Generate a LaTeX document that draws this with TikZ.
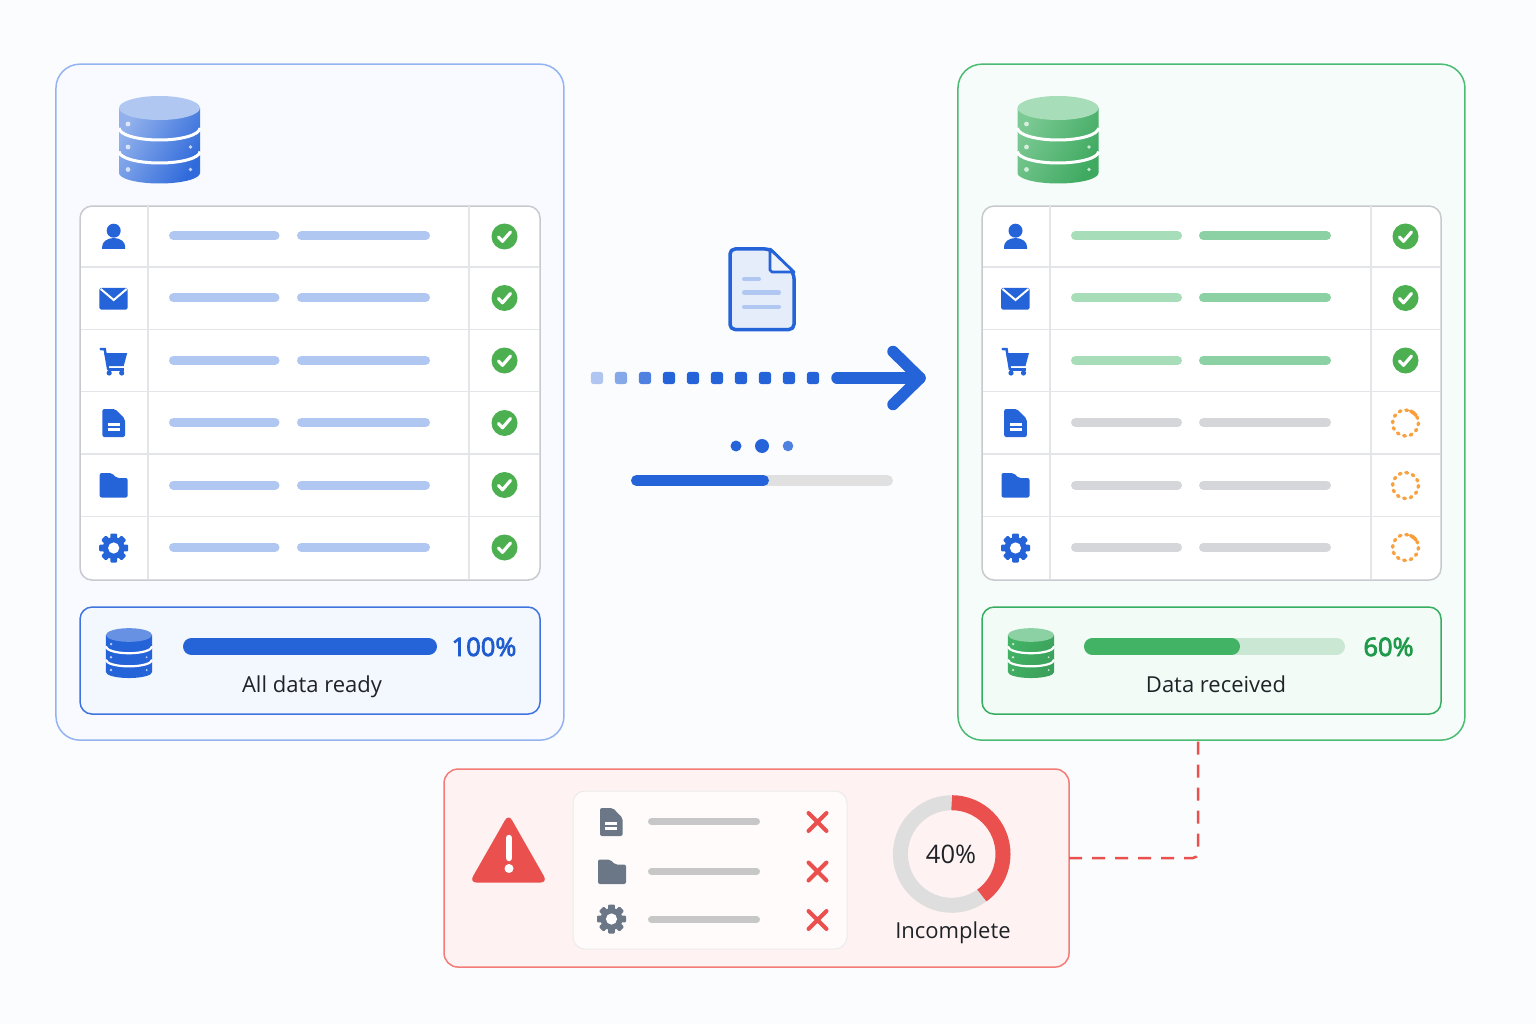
\documentclass[tikz,border=0pt]{standalone}
\usepackage{fontspec}
\setmainfont{Open Sans}
\newfontfamily\pctfont[FakeBold=3]{Open Sans}
\definecolor{bgc}{HTML}{FBFCFE}
\definecolor{blu}{HTML}{2563D9}
\definecolor{bluB}{HTML}{93B4F0}
\definecolor{bluF}{HTML}{F8FAFF}
\definecolor{bluL}{HTML}{B0C7F2}
\definecolor{bluS}{HTML}{F3F7FE}
\definecolor{bluSB}{HTML}{3F74DE}
\definecolor{bluT}{HTML}{1F5CD0}
\definecolor{grn}{HTML}{42B265}
\definecolor{grnB}{HTML}{4CBB73}
\definecolor{grnF}{HTML}{F6FCF9}
\definecolor{grnL}{HTML}{A8DDB9}
\definecolor{grnM}{HTML}{8CD1A3}
\definecolor{grnS}{HTML}{F3FBF6}
\definecolor{grnSB}{HTML}{36AE62}
\definecolor{grnT}{HTML}{1F9A4A}
\definecolor{grnTr}{HTML}{C9E7D3}
\definecolor{chk}{HTML}{4CAF50}
\definecolor{orng}{HTML}{F9A03F}
\definecolor{grayB}{HTML}{D5D6D9}
\definecolor{tblB}{HTML}{C8CACE}
\definecolor{tblL}{HTML}{E3E5E9}
\definecolor{redM}{HTML}{E9504E}
\definecolor{redB}{HTML}{F37C78}
\definecolor{redF}{HTML}{FEF3F2}
\definecolor{slate}{HTML}{6B7686}
\definecolor{ink}{HTML}{1F2328}
\tikzset{
  x=1pt,y=-1pt,
  panel/.style={anchor=north west,inner sep=0pt,rounded corners=24pt,line width=1.5pt},
  tablebox/.style={anchor=north west,inner sep=0pt,rounded corners=12pt,line width=1.5pt,draw=tblB,fill=white},
  statusbox/.style={anchor=north west,inner sep=0pt,rounded corners=12pt,line width=1.5pt},
  label/.style={inner sep=0pt,anchor=base,text=ink,font=\fontsize{22}{26}\selectfont},
  pct/.style={inner sep=0pt,anchor=base,font=\fontsize{25.5}{30}\selectfont\pctfont},
  gridline/.style={line width=1.5pt,draw=tblL},
}
\newcommand{\pbar}[5]{\draw[#5,line width=#4pt,line cap=round] ({#1+#4/2},#3) -- ({#2-#4/2},#3);}
% db icon: cx, top centre y, scale, top colour, left colour, right colour, band width
\newcommand{\dbicon}[7]{\begin{scope}[shift={(#1,#2)},scale=#3]
  \path[left color=#5,right color=#6,shading angle=60] (-40.5,0) -- (-40.5,65) arc[start angle=180,end angle=0,x radius=40.5,y radius=10.5] -- (40.5,0) -- cycle;
  \draw[white,line width=#7pt] (-40.5,20) arc[start angle=180,end angle=0,x radius=40.5,y radius=12];
  \draw[white,line width=#7pt] (-40.5,43.5) arc[start angle=180,end angle=0,x radius=40.5,y radius=11.5];
  \fill[#4] (0,0) ellipse[x radius=40.5,y radius=12];
  \fill[white,opacity=.7] (-31.5,16) circle[radius=2.4] (-31.5,39) circle[radius=2.4] (-31.5,61.5) circle[radius=2.4]
     (31,39) circle[radius=1.8] (31,61.5) circle[radius=1.8];
\end{scope}}
\newcommand{\iperson}[3]{\begin{scope}[shift={(#1,#2)}]
  \fill[#3] (0,-5.8) circle[radius=7];
  \fill[#3] (-11.5,12.5) -- (-11.5,10) arc[start angle=180,end angle=360,x radius=11.5,y radius=8.5] -- (11.5,12.5) -- cycle;
\end{scope}}
\newcommand{\imail}[3]{\begin{scope}[shift={(#1,#2)}]
  \fill[#3,rounded corners=1.5pt] (-14.3,-10.5) rectangle (14,11);
  \draw[white,line width=2pt] (-13,-9.5) -- (0,1.5) -- (13,-9.5);
\end{scope}}
\newcommand{\icart}[3]{\begin{scope}[shift={(#1,#2)}]
  \draw[#3,line width=2.5pt,line cap=round] (-13,-11.5) -- (-9,-11.5) -- (-5.5,9);
  \fill[#3] (-9.5,-7.5) -- (13.5,-7.5) -- (10,5.5) -- (-6.5,5.5) -- cycle;
  \draw[#3,line width=2.2pt] (-6,9) -- (10,9);
  \fill[#3] (-4.5,12.5) circle[radius=2.6] (8,12.5) circle[radius=2.6];
\end{scope}}
\newcommand{\ifile}[4]{\begin{scope}[shift={(#1,#2)}]
  \fill[#3,rounded corners=2pt] (-11.3,-14) -- (1.5,-14) -- (11.3,-4) -- (11.3,14) -- (-11.3,14) -- cycle;
  \draw[#4,line width=2.2pt] (-6,1.5) -- (6,1.5) (-6,6.5) -- (6,6.5);
\end{scope}}
\newcommand{\ifolder}[3]{\begin{scope}[shift={(#1,#2)}]
  \fill[#3,rounded corners=2pt] (-14,-12.5) -- (-2,-12.5) -- (3,-7.5) -- (14,-7.5) -- (14,12) -- (-14,12) -- cycle;
\end{scope}}
\newcommand{\igear}[4]{\begin{scope}[shift={(#1,#2)}]
  \foreach \a in {0,45,...,315}{\fill[#3,rotate=\a,rounded corners=1pt] (-3.4,-14.5) rectangle (3.4,-7);}
  \fill[#3] (0,0) circle[radius=11];
  \fill[#4] (0,0) circle[radius=5.6];
\end{scope}}
\newcommand{\icheck}[2]{\begin{scope}[shift={(#1,#2)}]
  \fill[chk] (0,0) circle[radius=13];
  \draw[white,line width=3.2pt,line cap=round,line join=round] (-6,0.5) -- (-2,4.8) -- (6,-4.5);
\end{scope}}
\newcommand{\iring}[3]{\begin{scope}[shift={(#1,#2)}]
  \draw[orng,line width=3.4pt,line cap=round,dash pattern=on 1.8pt off 5pt] (0,0) circle[radius=13];
  \ifnum#3=1 \draw[orng!90!orange,line width=3.4pt,line cap=round] (5,-12) arc[start angle=-67,end angle=-35,radius=13]; \fi
\end{scope}}
\newcommand{\ixmark}[2]{\draw[redM,line width=4pt,line cap=round] (#1-9,#2-9) -- (#1+9,#2+9) (#1-9,#2+9) -- (#1+9,#2-9);}
\begin{document}
\begin{tikzpicture}
\useasboundingbox[fill=bgc] (0,0) rectangle (1536,1024);
% panels
\node[panel,draw=bluB,fill=bluF,minimum width=508pt,minimum height=676pt] (leftpanel) at (55.2,63.4) {};
\node[panel,draw=grnB,fill=grnF,minimum width=507pt,minimum height=676pt] (rightpanel) at (957.2,63.4) {};
% databases
\dbicon{159.5}{108}{1}{bluL}{blu!50!white}{blu!95!white}{3}
\dbicon{1058}{108}{1}{grnL}{grn!70!white}{grn!95!black}{3}
% tables
\node[tablebox,minimum width=460pt,minimum height=374pt] (lefttable) at (79.3,205.3) {};
\node[tablebox,minimum width=459pt,minimum height=374pt] (righttable) at (981.3,205.3) {};
\foreach \yy in {266.8,329.3,391.7,454,516.3}{
  \draw[gridline] (80.5,\yy) -- (538.5,\yy);
  \draw[gridline] (982.5,\yy) -- (1439.5,\yy);
}
\draw[gridline] (147.8,206.5) -- (147.8,579) (468.8,206.5) -- (468.8,579) (1049.8,206.5) -- (1049.8,579) (1370.8,206.5) -- (1370.8,579);
% row icons
\foreach \xx in {113.7,1015.5}{
  \iperson{\xx}{236.5}{blu}
  \imail{\xx}{298.5}{blu}
  \icart{\xx}{360.5}{blu}
  \ifile{\xx}{423}{blu}{white}
  \ifolder{\xx}{485.5}{blu}
  \igear{\xx}{548}{blu}{white}
}
% left rows
\foreach \yy/\cy in {235.8/236.5,297.8/298,360.3/360.5,422.5/423,485/485,547.3/547.5}{
  \pbar{169}{279.5}{\yy}{9}{bluL}
  \pbar{297}{430}{\yy}{9}{bluL}
  \icheck{504.5}{\cy}
}
% right rows
\foreach \yy/\cy in {235.8/236.5,297.8/298,360.3/360.5}{
  \pbar{1071}{1182}{\yy}{9}{grnL}
  \pbar{1199}{1331}{\yy}{9}{grnM}
  \icheck{1405.5}{\cy}
}
\foreach \yy in {422.5,485,547.3}{
  \pbar{1071}{1182}{\yy}{9}{grayB}
  \pbar{1199}{1331}{\yy}{9}{grayB}
}
\iring{1405.5}{423}{1}
\iring{1405.5}{485.5}{0}
\iring{1405.5}{547.5}{1}
% status boxes
\node[statusbox,draw=bluSB,fill=bluS,minimum width=460pt,minimum height=107pt] (leftstatus) at (79.3,606.3) {};
\node[statusbox,draw=grnSB,fill=grnS,minimum width=459pt,minimum height=107pt] (rightstatus) at (981.3,606.3) {};
\dbicon{129}{635}{0.57}{blu!70!white}{blu}{blu}{2.2}
\dbicon{1031}{635}{0.57}{grnM}{grn}{grn!90!black}{2.2}
\pbar{183}{437}{646.5}{17}{blu}
\node[pct,text=bluT] (pctleft) at (484,656) {100\%};
\node[label] (txtleft) at (312,692) {All data ready};
\pbar{1084}{1345}{646.5}{17}{grnTr}
\pbar{1084}{1240}{646.5}{17}{grn}
\node[pct,text=grnT] (pctright) at (1388.5,656) {60\%};
\node[label] (txtright) at (1216,692) {Data received};
% document
\draw[blu,fill=blu!12!white,line width=3.5pt,line join=round,rounded corners=5pt] (730,249) -- (770,249) -- (794,273.5) -- (794,329.5) -- (730,329.5) -- cycle;
\draw[blu,fill=blu!8!white,line width=2.8pt,line join=round] (770,249) -- (770,270) -- (772,272) -- (794,272) -- cycle;
\pbar{742}{761}{279}{4.5}{bluL}
\pbar{742}{781}{292.5}{4.5}{bluL}
\pbar{742}{781}{307}{4.5}{bluL}
% dotted flow
\foreach \xx/\op in {597/.35,621/.55,645/.8,669/1,693/1,717/1,741/1,765/1,789/1,813/1}{
  \fill[blu,opacity=\op,rounded corners=3pt] (\xx-6.2,371.8) rectangle (\xx+6.2,384.2);
}
\coordinate (arrowstart) at (837,378);
\coordinate (arrowtip) at (920,378);
\coordinate (headtop) at (893,351.5);
\coordinate (headbot) at (893,404.5);
\draw[blu,line width=11.5pt,line cap=round,line join=round] (arrowstart) -- (arrowtip);
\draw[blu,line width=11.5pt,line cap=round,line join=round] (headtop) -- (arrowtip) -- (headbot);
% dots and progress
\fill[blu] (736,446) circle[radius=5.5] (762,446) circle[radius=7];
\fill[blu,opacity=.8] (788,446) circle[radius=5.3];
\pbar{631}{893}{480.5}{11}{black!12}
\pbar{631}{769}{480.5}{11}{blu}
% alert box
\node[anchor=north west,inner sep=0pt,rounded corners=14pt,line width=1.5pt,draw=redB,fill=redF,minimum width=625pt,minimum height=198pt] (alertbox) at (443.3,768.3) {};
\node[anchor=north west,inner sep=0pt,rounded corners=12pt,line width=1pt,draw=black!8,fill=white!70!redF,minimum width=274pt,minimum height=158pt] (alertlist) at (572.5,790.5) {};
% warning triangle
\fill[redM,rounded corners=7pt] (508.5,814) -- (547.5,882.5) -- (469.5,882.5) -- cycle;
\draw[white,line width=6.5pt,line cap=round] (509,838) -- (509,858);
\fill[white] (509,868.5) circle[radius=4.5];
% alert rows
\ifile{611.3}{822}{slate}{white}
\ifolder{612}{872}{slate}
\igear{611.5}{919}{slate}{white}
\pbar{648}{760}{821.5}{7}{black!22}
\pbar{648}{760}{871.5}{7}{black!22}
\pbar{648}{760}{919.5}{7}{black!22}
\ixmark{817.5}{822}
\ixmark{817.5}{871.5}
\ixmark{817.5}{920}
% donut
\draw[black!13,line width=15pt] (951.7,854) ++(54:51.3) arc[start angle=54,end angle=270,radius=51.3];
\draw[redM,line width=15pt] (951.7,802.7) arc[start angle=-90,end angle=54,radius=51.3];
\node[label,font=\fontsize{25.5}{30}\selectfont] (pctdonut) at (951,863) {40\%};
\node[label] (txtincomplete) at (953,938.5) {Incomplete};
% dashed connector
\coordinate (dashstart) at (1069,858);
\coordinate (dashend) at (1198,741);
\draw[redM,line width=2.5pt,dash pattern=on 13pt off 10pt,rounded corners=5pt] (dashstart) -| (dashend);
\end{tikzpicture}
\end{document}
